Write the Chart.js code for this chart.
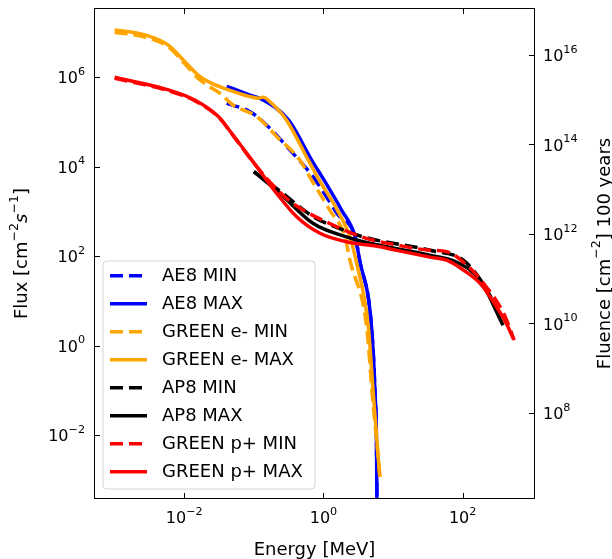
<!DOCTYPE html>
<html>
<head>
<meta charset="utf-8">
<script src="https://cdn.jsdelivr.net/npm/chart.js@4.4.1/dist/chart.umd.min.js"></script>
<style>
  html, body { margin: 0; padding: 0; background: #fff; }
  #c { display: block; }
</style>
</head>
<body>
<canvas id="c" width="612" height="559"></canvas>
<script>
// ---------- DATA (energy in MeV, flux in cm^-2 s^-1) ----------
const seriesLabels = ['AE8 MIN', 'AE8 MAX', 'GREEN e- MIN', 'GREEN e- MAX', 'AP8 MIN', 'AP8 MAX', 'GREEN p+ MIN', 'GREEN p+ MAX'];

const ae8MinEnergy = [0.0407, 0.0881, 0.153, 0.331, 0.708, 1.11, 1.58, 2.85, 3.31, 4.90, 5.50, 5.81, 5.87];
const ae8MinFlux   = [2.6e5, 1.7e5, 8.5e4, 2.35e4, 6.0e3, 2.1e3, 890, 270, 81, 2.6, 0.085, 0.0027, 1.26e-4];

const ae8MaxEnergy = [0.0407, 0.0881, 0.131, 0.316, 0.676, 1.02, 1.82, 2.85, 3.31, 4.90, 5.50, 5.81, 5.87];
const ae8MaxFlux   = [6.3e5, 4.0e5, 3.2e5, 1.1e5, 1.41e4, 5.0e3, 1.07e3, 270, 81, 2.6, 0.085, 0.0027, 1.26e-4];

const greenEMinEnergy = [0.001, 0.00272, 0.00589, 0.0102, 0.0158, 0.0209, 0.0324, 0.0501, 0.110, 0.214, 0.457, 0.676, 1.23, 2.04, 2.40, 4.17, 5.01, 6.17, 6.46];
const greenEMinFlux   = [1.02e7, 7.9e6, 4.8e6, 2.0e6, 9.5e5, 6.8e5, 4.4e5, 2.4e5, 1.32e5, 4.7e4, 1.41e4, 5.0e3, 1.07e3, 270, 81, 2.6, 0.085, 0.0027, 0.00115];

const greenEMaxEnergy = [0.001, 0.00272, 0.00589, 0.0102, 0.0158, 0.0245, 0.0385, 0.0881, 0.115, 0.138, 0.166, 0.295, 0.605, 0.871, 1.58, 2.40, 2.93, 4.41, 5.20, 6.17, 6.46];
const greenEMaxFlux   = [1.15e7, 8.9e6, 5.25e6, 2.24e6, 1.12e6, 7.4e5, 5.6e5, 3.7e5, 3.4e5, 3.6e5, 2.95e5, 1.1e5, 1.4e4, 5.0e3, 1.07e3, 270, 81, 2.6, 0.085, 0.0027, 0.00115];

const ap8MinEnergy = [0.1, 0.24, 0.713, 2.14, 3.72, 33.9, 102, 195, 380];
const ap8MinFlux   = [7.8e3, 2.8e3, 760, 363, 269, 135, 81, 24.5, 3.7];

const ap8MaxEnergy = [0.1, 0.24, 0.713, 2.14, 3.72, 33.9, 81.3, 178, 380];
const ap8MaxFlux   = [7.8e3, 2.5e3, 537, 269, 209, 105, 74, 29, 2.85];

const greenPMinEnergy = [0.001, 0.00589, 0.0141, 0.0309, 0.0479, 0.110, 0.24, 0.412, 1.23, 3.72, 11.2, 33.9, 58.9, 102, 200, 389, 550];
const greenPMinFlux   = [9.5e5, 5.0e5, 3.0e5, 1.3e5, 5.5e4, 1.0e4, 2.6e3, 1.32e3, 537, 263, 178, 135, 126, 74, 24.5, 5.2, 1.32];

const greenPMaxEnergy = [0.001, 0.00589, 0.0141, 0.0309, 0.0479, 0.110, 0.214, 0.412, 0.891, 2.14, 6.46, 11.2, 33.9, 58.9, 102, 178, 309, 417, 537];
const greenPMaxFlux   = [1.0e6, 5.25e5, 3.1e5, 1.32e5, 5.6e4, 1.0e4, 2.5e3, 760, 324, 209, 162, 135, 95, 81, 49, 24.5, 7.2, 3.3, 1.4];

const xTickValues  = [1e-2, 1e0, 1e2];
const yTickValues  = [1e-2, 1e0, 1e2, 1e4, 1e6];
const y2TickValues = [1e8, 1e10, 1e12, 1e14, 1e16];

// axis ranges
const xMin = 5.05e-4, xMax = 1094;
const yMin = 3.69e-4, yMax = 3.55e7;
const SECONDS_100_YEARS = 100 * 365.25 * 86400;

// ---------- helpers ----------
const FONT = "'DejaVu Sans', sans-serif";
function pts(E, F) { return E.map((e, i) => ({x: e, y: F[i]})); }

// draw text made of parts: {t, kind: 'n' | 'sup' | 'it'}
function drawRich(ctx, parts, x, baseline, size, align) {
  const supSize = size * 0.7, raise = size * 0.52;
  const fontOf = p => p.kind === 'sup' ? supSize + 'px ' + FONT
                     : p.kind === 'it' ? 'italic ' + size + 'px ' + FONT
                     : size + 'px ' + FONT;
  let total = 0;
  const widths = parts.map(p => { ctx.font = fontOf(p); const w = ctx.measureText(p.t).width; total += w; return w; });
  let cx = align === 'right' ? x - total : align === 'center' ? x - total / 2 : x;
  ctx.textAlign = 'left';
  ctx.textBaseline = 'alphabetic';
  parts.forEach((p, i) => {
    ctx.font = fontOf(p);
    ctx.fillText(p.t, cx, p.kind === 'sup' ? baseline - raise : baseline);
    cx += widths[i];
  });
}
function powParts(v) {
  const e = Math.round(Math.log10(v));
  return [{t: '10', kind: 'n'}, {t: String(e).replace('-', '\u2212'), kind: 'sup'}];
}

const DASH = [13, 6];
const LW = 3.5;
const styles = [
  {color: '#0000ff', dash: DASH},
  {color: '#0000ff', dash: []},
  {color: '#ffa500', dash: DASH},
  {color: '#ffa500', dash: []},
  {color: '#000000', dash: DASH},
  {color: '#000000', dash: []},
  {color: '#ff0000', dash: DASH},
  {color: '#ff0000', dash: []}
];
const seriesData = [
  pts(ae8MinEnergy, ae8MinFlux),
  pts(ae8MaxEnergy, ae8MaxFlux),
  pts(greenEMinEnergy, greenEMinFlux),
  pts(greenEMaxEnergy, greenEMaxFlux),
  pts(ap8MinEnergy, ap8MinFlux),
  pts(ap8MaxEnergy, ap8MaxFlux),
  pts(greenPMinEnergy, greenPMinFlux),
  pts(greenPMaxEnergy, greenPMaxFlux)
];

const datasets = seriesLabels.map((lab, i) => ({
  label: lab,
  data: seriesData[i],
  borderColor: styles[i].color,
  backgroundColor: styles[i].color,
  borderDash: styles[i].dash,
  borderWidth: LW,
  pointRadius: 0,
  fill: false,
  cubicInterpolationMode: 'monotone',
  clip: 0,
  order: seriesLabels.length - i
}));

// ---------- plugin: frame, inward ticks, tick labels, titles, legend ----------
const decor = {
  id: 'decor',
  afterDraw(chart) {
    const {ctx, chartArea: a, scales} = chart;
    ctx.save();
    ctx.strokeStyle = '#000';
    ctx.lineWidth = 1;
    ctx.setLineDash([]);
    ctx.strokeRect(Math.round(a.left) + 0.5, Math.round(a.top) + 0.5,
                   Math.round(a.right - a.left) - 1, Math.round(a.bottom - a.top) - 1);
    const TL = 6;
    ctx.beginPath();
    scales.x.ticks.forEach(t => {
      const p = Math.round(scales.x.getPixelForValue(t.value)) + 0.5;
      ctx.moveTo(p, a.bottom); ctx.lineTo(p, a.bottom - TL);
      ctx.moveTo(p, a.top); ctx.lineTo(p, a.top + TL);
    });
    scales.y.ticks.forEach(t => {
      const p = Math.round(scales.y.getPixelForValue(t.value)) + 0.5;
      ctx.moveTo(a.left, p); ctx.lineTo(a.left + TL, p);
    });
    scales.y2.ticks.forEach(t => {
      const p = Math.round(scales.y2.getPixelForValue(t.value)) + 0.5;
      ctx.moveTo(a.right, p); ctx.lineTo(a.right - TL, p);
    });
    ctx.stroke();

    // tick labels
    ctx.fillStyle = '#000';
    scales.x.ticks.forEach(t => {
      drawRich(ctx, powParts(t.value), scales.x.getPixelForValue(t.value), a.bottom + 24, 16, 'center');
    });
    scales.y.ticks.forEach(t => {
      drawRich(ctx, powParts(t.value), a.left - 9, scales.y.getPixelForValue(t.value) + 6, 16, 'right');
    });
    scales.y2.ticks.forEach(t => {
      drawRich(ctx, powParts(t.value), a.right + 8, scales.y2.getPixelForValue(t.value) + 6.5, 16, 'left');
    });

    // axis titles
    drawRich(ctx, [{t: 'Energy [MeV]', kind: 'n'}], (a.left + a.right) / 2, 555, 18, 'center');
    const cy = (a.top + a.bottom) / 2;
    ctx.save();
    ctx.translate(27, cy);
    ctx.rotate(-Math.PI / 2);
    drawRich(ctx, [{t: 'Flux [cm', kind: 'n'}, {t: '\u22122', kind: 'sup'}, {t: 's', kind: 'it'}, {t: '\u22121', kind: 'sup'}, {t: ']', kind: 'n'}], 0, 0, 18, 'center');
    ctx.restore();
    ctx.save();
    ctx.translate(609.5, cy);
    ctx.rotate(-Math.PI / 2);
    drawRich(ctx, [{t: 'Fluence [cm', kind: 'n'}, {t: '\u22122', kind: 'sup'}, {t: '] 100 years', kind: 'n'}], 0, 0, 18, 'center');
    ctx.restore();

    // legend
    const bx = 103, by = 261, bw = 212, bh = 228, r = 4;
    ctx.beginPath();
    ctx.moveTo(bx + r, by);
    ctx.arcTo(bx + bw, by, bx + bw, by + bh, r);
    ctx.arcTo(bx + bw, by + bh, bx, by + bh, r);
    ctx.arcTo(bx, by + bh, bx, by, r);
    ctx.arcTo(bx, by, bx + bw, by, r);
    ctx.closePath();
    ctx.fillStyle = 'rgba(255,255,255,0.8)';
    ctx.fill();
    ctx.strokeStyle = '#d4d4d4';
    ctx.lineWidth = 1;
    ctx.stroke();

    ctx.font = '18px ' + FONT;
    ctx.textAlign = 'left';
    ctx.textBaseline = 'middle';
    chart.data.datasets.forEach((ds, i) => {
      const y = 275.8 + i * 28;
      ctx.beginPath();
      ctx.setLineDash(ds.borderDash);
      ctx.strokeStyle = ds.borderColor;
      ctx.lineWidth = LW;
      ctx.moveTo(110, y);
      ctx.lineTo(147, y);
      ctx.stroke();
      ctx.setLineDash([]);
      ctx.fillStyle = '#000';
      ctx.fillText(ds.label, 162, y + 1);
    });
    ctx.restore();
  }
};

function fixedTicks(values) {
  return s => { s.ticks = values.map(v => ({value: v})); };
}

new Chart(document.getElementById('c'), {
  type: 'line',
  data: {datasets},
  options: {
    responsive: false,
    animation: false,
    devicePixelRatio: 1,
    layout: {padding: {top: 8, left: 0, right: 0, bottom: 0}},
    plugins: {legend: {display: false}, tooltip: {enabled: false}},
    scales: {
      x: {
        type: 'logarithmic', position: 'bottom', min: xMin, max: xMax,
        afterBuildTicks: fixedTicks(xTickValues),
        afterFit: s => { s.height = 60; s.paddingLeft = 0; s.paddingRight = 0; },
        grid: {display: false, drawTicks: false},
        border: {display: false},
        ticks: {display: false}
      },
      y: {
        type: 'logarithmic', position: 'left', min: yMin, max: yMax,
        afterBuildTicks: fixedTicks(yTickValues),
        afterFit: s => { s.width = 94; s.paddingTop = 0; s.paddingBottom = 0; },
        grid: {display: false, drawTicks: false},
        border: {display: false},
        ticks: {display: false}
      },
      y2: {
        type: 'logarithmic', position: 'right',
        min: yMin * SECONDS_100_YEARS, max: yMax * SECONDS_100_YEARS,
        afterBuildTicks: fixedTicks(y2TickValues),
        afterFit: s => { s.width = 77; s.paddingTop = 0; s.paddingBottom = 0; },
        grid: {display: false, drawTicks: false},
        border: {display: false},
        ticks: {display: false}
      }
    }
  },
  plugins: [decor]
});
</script>
</body>
</html>
